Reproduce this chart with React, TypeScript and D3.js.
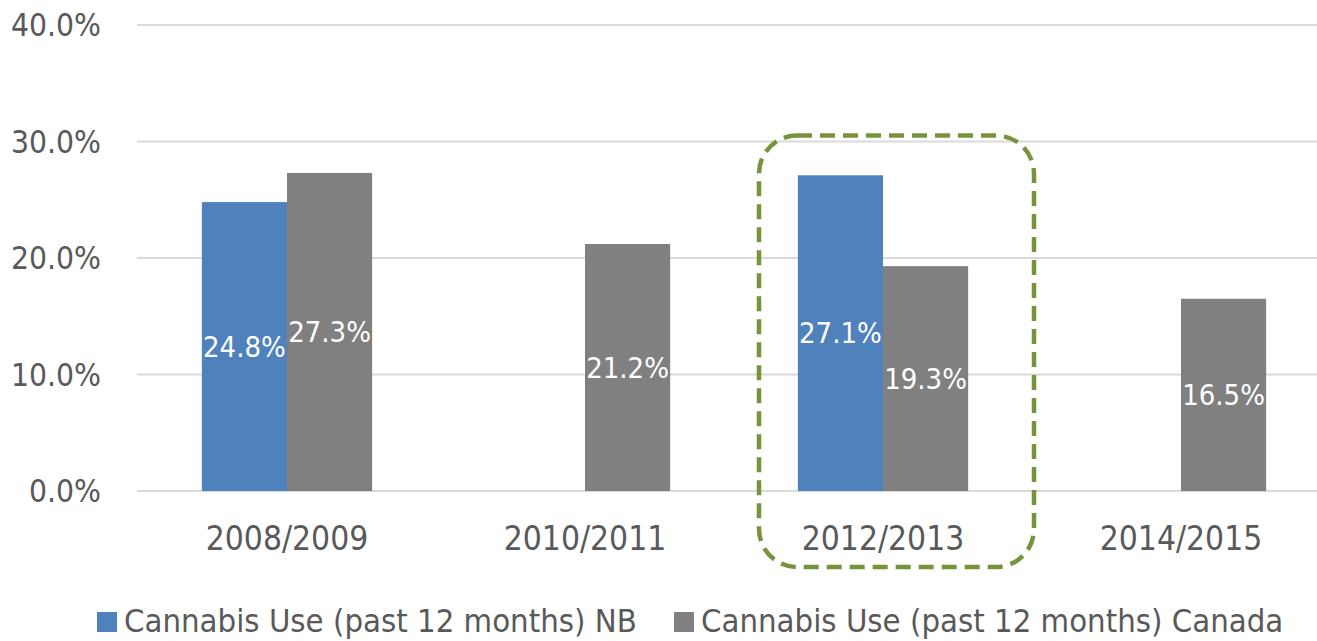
import React from "react";
import * as d3 from "d3";

const categories = ["2008/2009", "2010/2011", "2012/2013", "2014/2015"];
const seriesNames = ["Cannabis Use (past 12 months) NB", "Cannabis Use (past 12 months) Canada"];
const nbValues: (number | null)[] = [24.8, null, 27.1, null];
const canadaValues: (number | null)[] = [27.3, 21.2, 19.3, 16.5];
const yTicks = [0, 10, 20, 30, 40];
const highlightCategory = "2012/2013";

const W = 1317;
const H = 641;
const FONT = "'DejaVu Sans Condensed', 'Liberation Sans', sans-serif";
const TEXT = "#595959";
const colors = ["#4F81BD", "#808080"];

export default function App() {
  const x = d3.scaleBand<string>().domain(categories).range([138, 1330]).paddingInner(0).paddingOuter(0);
  const y = d3.scaleLinear().domain([0, 40]).range([491, 25]);
  const groupW = x.bandwidth() * (2 / 3.5);
  const series = [nbValues, canadaValues];
  const inner = d3.scaleBand<number>().domain([0, 1]).range([0, groupW]);
  const fmt = (v: number) => v.toFixed(1) + "%";

  const hc = (x(highlightCategory) as number) + x.bandwidth() / 2;

  return (
    <svg width={W} height={H} style={{ display: "block", position: "absolute", left: 0, top: 0, background: "#fff" }}>
      <rect x={0} y={0} width={W} height={H} fill="#fff" />
      {yTicks.map((t) => (
        <g key={t}>
          <line x1={137} x2={W} y1={y(t)} y2={y(t)} stroke="#D9D9D9" strokeWidth={2} />
          <text x={101} y={y(t)} dy="0.35em" textAnchor="end" fontFamily={FONT} fontSize={31.5} fill={TEXT}>
            {t.toFixed(1) + "%"}
          </text>
        </g>
      ))}
      {categories.map((c, ci) => {
        const cx = (x(c) as number) + x.bandwidth() / 2;
        const gx = cx - groupW / 2;
        return (
          <g key={c}>
            {series.map((vals, si) => {
              const v = vals[ci];
              if (v == null) return null;
              const bx = gx + (inner(si) as number);
              const by = y(v);
              return (
                <g key={si}>
                  <rect x={bx} y={by} width={inner.bandwidth()} height={y(0) - by} fill={colors[si]} />
                  <text x={bx + inner.bandwidth() / 2} y={(by + y(0)) / 2} dy="0.35em" textAnchor="middle"
                    fontFamily={FONT} fontSize={29} fill="#fff">
                    {fmt(v)}
                  </text>
                </g>
              );
            })}
            <text x={cx} y={538} dy="0.35em" textAnchor="middle" fontFamily={FONT} fontSize={33.3} fill={TEXT}>
              {c}
            </text>
          </g>
        );
      })}
      <rect x={hc - 124} y={y(30) - 6} width={275} height={567 - (y(30) - 6)} rx={38} ry={38}
        fill="none" stroke="#77933C" strokeWidth={4.5} strokeDasharray="15 8" />
      <g>
        <rect x={97} y={612} width={20} height={20} fill={colors[0]} />
        <text x={124} y={621} dy="0.35em" fontFamily={FONT} fontSize={32.6} fill={TEXT}>{seriesNames[0]}</text>
        <rect x={674} y={612} width={20} height={20} fill={colors[1]} />
        <text x={701} y={621} dy="0.35em" fontFamily={FONT} fontSize={32.6} fill={TEXT}>{seriesNames[1]}</text>
      </g>
    </svg>
  );
}
